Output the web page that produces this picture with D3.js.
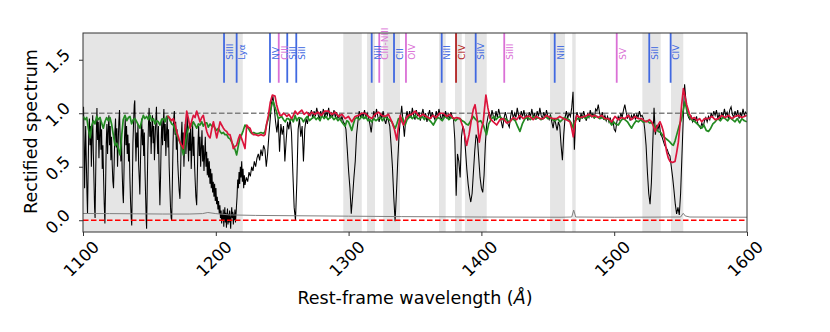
<!DOCTYPE html>
<head>
  <meta charset="utf-8">
  <title>Rectified spectrum</title>
  <style>
    body { margin: 0; background: #fff; }
    svg { display: block; font-family: "DejaVu Sans", sans-serif; }
  </style>
</head>

<body>
  <div id="chart"></div>

  <script src="https://d3js.org/d3.v7.min.js"></script>
  <script type="text/javascript">

    // ---------------- data (wavelength in A, rectified flux) ----------------
    const xTicks = [1100, 1200, 1300, 1400, 1500, 1600];
    const yTicks = [0.0, 0.5, 1.0, 1.5];

    // masked (grey) wavelength windows
    const maskStart = [1100, 1296.0, 1313.9, 1326.1, 1368.1, 1380.1, 1387.6, 1451.7, 1468.4, 1521.2, 1542.8];
    const maskEnd   = [1220.3, 1309.9, 1319.9, 1338.7, 1373.1, 1385.2, 1404.0, 1463.0, 1471.0, 1535.0, 1552.0];

    // line identifications
    const lineNames = ["SiIII", "Lyα", "NV", "CIII", "SiII", "SiII", "NiII", "CIII-NIII", "CII", "OIV",
                       "NiII", "CIV", "SiIV", "SiIII", "NiII", "SV", "SiII", "CIV"];
    const lineWaves = [1206.2, 1215.7, 1240.8, 1247.4, 1253.8, 1260.6, 1317.4, 1323.1, 1334.2, 1343.2,
                       1370.1, 1380.9, 1395.7, 1417.2, 1455.2, 1501.9, 1526.4, 1542.5];
    const lineKinds = ["ism", "ism", "ism", "phot", "ism", "ism", "ism", "phot", "ism", "phot",
                       "ism", "other", "ism", "phot", "ism", "phot", "ism", "ism"];

    // observed spectrum, forest part
    const blackForest = [
      [1100.0,0.95],[1100.4,1.06],[1100.8,0.72],[1101.2,0.30],[1101.6,0.62],[1102.0,0.88],[1102.5,0.55],[1103.0,0.25],
      [1103.4,0.06],[1103.8,0.40],[1104.3,0.82],[1104.8,0.95],[1105.3,0.70],[1105.8,0.88],[1106.3,0.50],[1106.8,0.78],
      [1107.3,0.98],[1107.8,0.62],[1108.3,0.35],[1108.7,0.12],[1109.1,0.02],[1109.5,0.38],[1110.0,0.80],[1110.5,1.05],
      [1111.0,0.75],[1111.5,0.92],[1112.0,0.58],[1112.5,0.80],[1113.0,0.96],[1113.5,0.66],[1114.0,0.85],[1114.5,0.48],
      [1115.0,0.70],[1115.5,0.40],[1116.0,0.15],[1116.5,-0.03],[1117.0,0.30],[1117.5,0.72],[1118.0,0.90],[1118.5,0.62],
      [1119.0,0.84],[1119.5,0.98],[1120.0,0.70],[1120.5,0.88],[1121.0,0.56],[1121.5,0.78],[1122.0,0.52],[1122.5,0.36],
      [1123.0,0.30],[1123.5,0.55],[1124.0,0.82],[1124.5,0.95],[1125.0,0.68],[1125.5,0.86],[1126.0,0.50],[1126.5,0.72],
      [1127.0,0.92],[1127.5,1.03],[1128.0,0.75],[1128.5,0.55],[1129.0,0.80],[1129.5,0.45],[1130.0,0.25],[1130.4,0.16],
      [1130.8,0.40],[1131.3,0.78],[1131.8,0.95],[1132.3,0.70],[1132.8,0.88],[1133.3,0.62],[1133.8,0.80],[1134.3,0.55],
      [1134.8,0.72],[1135.3,0.40],[1135.8,0.18],[1136.3,0.02],[1136.7,-0.05],[1137.1,0.30],[1137.6,0.72],[1138.1,0.92],
      [1138.6,1.08],[1139.0,1.12],[1139.4,0.80],[1139.9,0.55],[1140.4,0.82],[1140.9,0.68],[1141.4,0.90],[1141.9,0.52],
      [1142.4,0.38],[1142.8,0.24],[1143.2,0.50],[1143.7,0.78],[1144.2,0.95],[1144.7,0.70],[1145.2,0.85],[1145.7,0.60],
      [1146.2,0.82],[1146.7,0.45],[1147.2,0.20],[1147.6,0.00],[1147.9,-0.08],[1148.3,0.25],[1148.8,0.65],[1149.3,0.90],
      [1149.8,1.05],[1150.3,0.78],[1150.8,0.92],[1151.3,0.62],[1151.8,0.85],[1152.3,0.98],[1152.8,0.72],[1153.3,0.88],
      [1153.8,0.56],[1154.3,0.76],[1154.8,0.92],[1155.3,1.06],[1155.8,0.80],[1156.3,0.62],[1156.8,0.88],[1157.3,0.45],
      [1157.9,0.14],[1158.4,0.40],[1158.9,0.75],[1159.4,0.95],[1159.9,0.70],[1160.4,0.88],[1160.9,1.04],[1161.4,0.74],
      [1161.9,0.90],[1162.4,0.60],[1162.9,0.82],[1163.4,0.97],[1163.9,0.68],[1164.4,0.85],[1164.9,0.50],[1165.4,0.30],
      [1165.9,0.12],[1166.4,0.02],[1166.8,0.00],[1167.3,0.35],[1167.8,0.72],[1168.3,0.95],[1168.8,1.02],[1169.3,0.80],
      [1169.8,0.92],[1170.3,0.66],[1170.8,0.85],[1171.3,0.55],[1171.8,0.42],[1172.4,0.28],[1173.0,0.20],[1173.5,0.45],
      [1174.0,0.78],[1174.5,0.92],[1175.0,0.66],[1175.5,0.82],[1176.0,0.50],[1176.5,0.70],[1177.0,0.90],[1177.5,0.62],
      [1178.0,0.80],[1178.5,0.98],[1179.0,0.72],[1179.5,0.55],[1180.0,0.82],[1180.5,0.65],[1181.0,0.88],[1181.5,0.48],
      [1182.0,0.70],[1182.5,0.92],[1183.0,0.60],[1183.5,0.78],[1184.0,0.52],[1184.5,0.36],[1185.0,0.22],[1185.6,0.14],
      [1186.1,0.42],[1186.6,0.72],[1187.1,0.88],[1187.6,0.60],[1188.1,0.78],[1188.6,0.50],[1189.1,0.68],[1189.6,0.84],
      [1190.1,0.55],[1190.6,0.70],[1191.1,0.46],[1191.6,0.62],[1192.1,0.78],[1192.6,0.50],[1193.1,0.64],[1193.6,0.42],
      [1194.1,0.58],[1194.6,0.40],[1195.1,0.55],[1195.6,0.34],[1196.1,0.48],[1196.6,0.30],[1197.1,0.44],[1197.6,0.26],
      [1198.1,0.36],[1198.6,0.22],[1199.1,0.34],[1199.6,0.18],[1200.1,0.30],[1200.6,0.15],[1201.1,0.22],[1201.6,0.10],
      [1202.1,0.18],[1202.6,0.06],[1203.1,0.14],[1203.5,0.02],[1204.0,0.09],[1204.4,-0.03],[1204.8,0.06],[1205.2,0.00],
      [1205.6,0.10],[1206.0,-0.06],[1206.4,0.04],[1206.8,0.12],[1207.2,-0.02],[1207.6,0.07],[1208.0,-0.07],[1208.4,0.03],
      [1208.8,0.11],[1209.2,-0.04],[1209.6,0.06],[1210.0,-0.02],[1210.4,0.09],[1210.8,0.01],[1211.2,-0.08],[1211.6,0.05],
      [1212.0,0.12],[1212.4,0.02],[1212.8,0.08],[1213.2,-0.04],[1213.6,0.06],[1214.0,0.00],[1214.4,0.10],[1214.8,-0.02],
      [1215.2,0.05],[1215.6,0.14],[1216.0,0.22],[1216.5,0.38],[1217.0,0.30],[1217.5,0.45],[1218.0,0.34],[1218.5,0.50],
      [1219.0,0.40],[1219.5,0.55],[1220.0,0.36],[1220.5,0.48],[1221.0,0.30],[1221.5,0.42]
    ];

    // observed spectrum, red of Lya
    const blackMain = [
      [1222,0.33],[1223,0.40],[1224,0.36],[1225,0.45],[1226,0.41],[1227,0.50],[1228,0.46],[1229,0.55],[1230,0.50],
      [1231,0.58],[1232,0.62],[1233,0.56],[1234,0.66],[1235,0.60],[1236,0.70],[1237,0.66],[1238,0.50],[1239,0.62],
      [1240,0.80],[1241,0.95],[1242,1.10],[1243,1.16],[1244,1.05],[1245,0.92],[1246,0.82],[1247,0.95],[1248,0.64],
      [1249,0.90],[1250,0.80],[1251,0.88],[1252,0.55],[1253,0.75],[1254,0.92],[1255,0.85],[1256,0.95],[1257,0.82],
      [1258,0.45],[1259,0.12],[1260,0.00],[1261,0.35],[1262,0.85],[1263,0.95],[1264,0.78],[1265,0.88],[1266,0.55],
      [1267,0.85],[1268,0.95],[1269,0.90],[1270,1.00],[1271,0.98],[1272,1.03],[1273,0.95],[1274,1.02],[1275,0.97],
      [1276,1.05],[1277,0.99],[1278,0.94],[1279,1.02],[1280,0.97],[1281,1.04],[1282,0.96],[1283,1.01],[1284,0.98],
      [1285,1.05],[1286,0.95],[1287,1.00],[1288,0.97],[1289,1.03],[1290,0.96],[1291,1.01],[1292,0.95],[1293,0.99],
      [1294,0.93],[1295,0.97],[1296,0.92],[1297,0.90],[1298,0.85],[1299,0.66],[1300,0.46],[1301,0.30],[1302,0.06],
      [1303,0.22],[1304,0.40],[1305,0.55],[1306,0.80],[1307,0.92],[1308,1.02],[1309,0.96],[1310,1.00],[1311,0.97],
      [1312,1.03],[1313,0.95],[1314,1.00],[1315,0.96],[1316,0.90],[1317,0.82],[1318,0.93],[1319,1.02],[1320,0.96],
      [1321,1.04],[1322,0.97],[1323,0.92],[1324,1.00],[1325,0.95],[1326,1.02],[1327,0.94],[1328,0.90],[1329,0.97],
      [1330,0.93],[1331,0.88],[1332,0.70],[1333,0.50],[1334,0.22],[1335,-0.01],[1336,0.25],[1337,0.55],[1338,0.80],
      [1339,0.95],[1340,1.07],[1341,0.92],[1342,0.78],[1343,0.95],[1344,1.02],[1345,0.95],[1346,1.02],[1347,0.96],
      [1348,1.05],[1349,0.98],[1350,0.94],[1351,1.03],[1352,0.97],[1353,1.01],[1354,0.93],[1355,0.99],[1356,1.04],
      [1357,0.96],[1358,1.00],[1359,0.92],[1360,0.98],[1361,1.03],[1362,0.95],[1363,1.01],[1364,0.97],[1365,0.94],
      [1366,1.02],[1367,0.96],[1368,1.04],[1369,0.98],[1370,0.93],[1371,1.00],[1372,0.96],[1373,1.02],[1374,0.95],
      [1375,0.99],[1376,0.94],[1377,1.01],[1378,0.97],[1379,0.95],[1380,0.75],[1381,0.23],[1382,0.62],[1383,0.55],
      [1384,0.40],[1385,0.78],[1386,0.88],[1387,0.84],[1388,0.66],[1389,0.48],[1390,0.34],[1391,0.24],[1392,0.17],
      [1393,0.25],[1394,0.45],[1395,0.65],[1396,0.80],[1397,0.76],[1398,0.58],[1399,0.40],[1400,0.30],[1401,0.26],
      [1402,0.42],[1403,0.72],[1404,0.90],[1405,0.97],[1406,1.01],[1407,0.95],[1408,1.03],[1409,0.97],[1410,0.93],
      [1411,1.02],[1412,0.96],[1413,1.04],[1414,0.98],[1415,0.92],[1416,0.86],[1417,0.95],[1418,1.01],[1419,0.96],
      [1420,0.90],[1421,0.87],[1422,0.97],[1423,1.03],[1424,0.95],[1425,1.00],[1426,0.96],[1427,1.05],[1428,0.98],
      [1429,0.94],[1430,1.02],[1431,0.97],[1432,1.03],[1433,0.95],[1434,0.99],[1435,0.93],[1436,1.01],[1437,0.97],
      [1438,1.04],[1439,0.96],[1440,1.00],[1441,0.94],[1442,1.02],[1443,0.97],[1444,1.05],[1445,0.98],[1446,0.95],
      [1447,1.01],[1448,0.96],[1449,1.03],[1450,0.97],[1451,0.94],[1452,0.99],[1453,0.92],[1454,0.86],[1455,0.95],
      [1456,0.90],[1457,0.84],[1458,0.92],[1459,0.88],[1460,0.70],[1461,0.56],[1462,0.80],[1463,0.96],[1464,1.02],
      [1465,0.95],[1466,1.00],[1467,0.97],[1468,1.05],[1469,1.20],[1470,0.66],[1471,0.95],[1472,1.01],[1473,0.96],
      [1474,0.92],[1475,1.00],[1476,0.95],[1477,1.02],[1478,0.97],[1479,0.93],[1480,0.99],[1481,0.96],[1482,1.03],
      [1483,0.97],[1484,1.00],[1485,0.95],[1486,1.04],[1487,1.02],[1488,1.08],[1489,1.00],[1490,0.96],[1491,1.01],
      [1492,0.94],[1493,0.98],[1494,0.93],[1495,0.97],[1496,0.92],[1497,0.96],[1498,0.90],[1499,0.94],[1500,0.85],
      [1501,0.83],[1502,0.92],[1503,0.97],[1504,0.94],[1505,1.00],[1506,0.96],[1507,1.03],[1508,1.08],[1509,1.01],
      [1510,0.95],[1511,0.99],[1512,0.93],[1513,0.98],[1514,0.95],[1515,1.00],[1516,0.94],[1517,0.99],[1518,0.96],
      [1519,1.02],[1520,0.97],[1521,0.98],[1522,0.95],[1523,0.85],[1524,0.70],[1525,0.45],[1526,0.25],[1527,0.15],
      [1528,0.35],[1529,0.70],[1530,1.05],[1531,0.80],[1532,0.88],[1533,0.85],[1534,0.90],[1535,0.80],[1536,0.78],
      [1537,0.74],[1538,0.70],[1539,0.68],[1540,0.66],[1541,0.62],[1542,0.60],[1543,0.50],[1544,0.40],[1545,0.28],
      [1546,0.15],[1547,0.06],[1548,0.12],[1549,0.05],[1550,0.25],[1551,0.60],[1552,0.95],[1553,1.27],[1554,1.12],
      [1555,1.00],[1556,0.96],[1557,0.94],[1558,0.97],[1559,0.92],[1560,0.95],[1561,0.93],[1562,0.97],[1563,0.90],
      [1564,0.88],[1565,0.86],[1566,0.91],[1567,0.87],[1568,0.93],[1569,0.96],[1570,0.92],[1571,0.97],[1572,0.94],
      [1573,1.00],[1574,0.96],[1575,1.02],[1576,0.98],[1577,1.03],[1578,0.95],[1579,0.99],[1580,0.94],[1581,1.01],
      [1582,0.97],[1583,1.04],[1584,0.98],[1585,1.01],[1586,0.95],[1587,1.03],[1588,1.06],[1589,0.99],[1590,0.96],
      [1591,1.02],[1592,0.97],[1593,1.03],[1594,0.95],[1595,1.00],[1596,0.97],[1597,1.04],[1598,0.98],[1599,1.01],
      [1600,0.99]
    ];

    // error spectrum
    const errorSpec = [
      [1100,0.063],[1120,0.062],[1140,0.060],[1160,0.058],[1180,0.058],[1190,0.062],[1194,0.072],[1200,0.062],
      [1210,0.050],[1230,0.045],[1260,0.042],[1300,0.038],[1340,0.034],[1400,0.030],[1460,0.028],[1468,0.030],
      [1469.5,0.095],[1471,0.030],[1500,0.028],[1550,0.030],[1552,0.065],[1553.5,0.040],[1557,0.030],[1600,0.028]
    ];

    // model 1 (green)
    const greenModel = [
      [1100.2,0.97],[1101.5,0.94],[1102.8,0.96],[1104,0.86],[1105.3,0.77],[1106.5,0.88],[1107.8,0.93],[1109,0.90],
      [1110.3,0.97],[1111.5,0.94],[1112.8,0.96],[1114,0.91],[1115.3,0.86],[1116.5,0.92],[1117.8,0.96],[1119,0.93],
      [1120.3,0.96],[1121.5,0.90],[1122.8,0.80],[1124.1,0.70],[1125.5,0.72],[1126.8,0.66],[1127.9,0.61],[1129.2,0.80],
      [1130.3,0.94],[1131.6,0.98],[1133,0.93],[1134.2,0.96],[1135.4,0.97],[1136.6,0.90],[1137.8,0.94],[1139.2,0.95],
      [1140.5,0.92],[1141.7,0.89],[1142.9,0.86],[1144.2,0.93],[1145.4,0.98],[1146.6,0.95],[1147.9,0.97],[1149.2,0.94],
      [1150.4,0.98],[1151.7,0.93],[1153,0.95],[1154.2,0.90],[1155.5,0.93],[1156.7,0.92],[1158,0.89],[1159.2,0.94],
      [1160.5,0.95],[1161.8,0.92],[1163,0.97],[1164.3,0.97],[1165.6,0.93],[1166.8,0.90],[1168,0.89],[1169.3,0.84],
      [1170.5,0.80],[1171.8,0.76],[1173,0.73],[1174.3,0.68],[1175.6,0.61],[1176.8,0.70],[1178.1,0.80],[1179.4,0.86],
      [1180.6,0.90],[1181.9,0.88],[1183.1,0.92],[1184.4,0.89],[1185.6,0.86],[1186.9,0.90],[1188.1,0.89],[1189.4,0.92],
      [1190.6,0.88],[1191.9,0.91],[1193.2,0.91],[1194.4,0.87],[1195.7,0.90],[1196.9,0.88],[1198.1,0.89],[1199.4,0.86],
      [1200.7,0.84],[1201.9,0.86],[1203.2,0.83],[1204.4,0.81],[1205.7,0.82],[1206.9,0.80],[1208.2,0.80],[1209.5,0.77],
      [1210.7,0.76],[1212,0.73],[1213.2,0.70],[1214.5,0.66],[1215.7,0.61],[1217,0.70],[1218.2,0.77],[1219.5,0.80],
      [1220.7,0.84],[1222,0.89],[1223.2,0.87],[1224.5,0.86],[1225.8,0.83],[1227,0.81],[1228.5,0.82],[1230,0.81],
      [1232,0.81],[1234,0.82],[1236,0.81],[1237.1,0.83],[1238.3,0.90],[1239.6,0.95],[1241,1.02],[1242.2,1.08],
      [1243.3,1.11],[1244.5,1.06],[1245.8,1.01],[1247,0.95],[1248.3,0.96],[1249.6,0.97],[1251,0.94],[1252.3,0.92],
      [1253.5,0.95],[1254.6,0.95],[1256,0.93],[1257.2,0.95],[1258.4,0.92],[1259.7,0.98],[1261,0.93],[1262.5,0.96],
      [1264.7,0.95],[1266,0.92],[1267.5,0.95],[1269,0.97],[1270.5,0.93],[1272.2,0.95],[1274,0.97],[1275.5,0.94],
      [1277,0.96],[1278.5,0.93],[1279.8,0.98],[1281.5,0.95],[1283,0.97],[1284.5,0.94],[1286,0.96],[1287.3,0.97],
      [1289,0.94],[1290.5,0.96],[1292,0.93],[1293.5,0.95],[1294.8,0.92],[1296,0.90],[1297.4,0.88],[1298.7,0.93],
      [1299.9,0.92],[1301.2,0.88],[1302.4,0.84],[1303.6,0.90],[1304.9,0.95],[1306.5,0.96],[1308,0.94],[1309.9,0.97],
      [1311.5,0.95],[1313,0.97],[1314.5,0.93],[1316,0.94],[1317.5,0.92],[1319,0.95],[1320.5,0.93],[1322.5,0.95],
      [1324,0.96],[1325.5,0.93],[1327.5,0.97],[1329,0.95],[1330.5,0.94],[1332.6,0.92],[1334,0.88],[1335.1,0.86],
      [1336.3,0.90],[1337.6,0.95],[1339,0.93],[1340.5,0.96],[1342.6,0.89],[1344,0.94],[1346.4,0.97],[1348,0.95],
      [1350.1,0.98],[1352,0.95],[1353.7,0.95],[1355.5,0.97],[1357,0.94],[1358.8,0.97],[1360.5,0.94],[1362,0.92],
      [1363.8,0.89],[1365.5,0.93],[1367,0.96],[1368.8,0.95],[1370.5,0.93],[1372,0.96],[1373.8,0.97],[1375.5,0.94],
      [1377,0.96],[1378.9,0.95],[1380.5,0.93],[1382,0.95],[1383.9,0.95],[1385.5,0.93],[1387,0.92],[1388.5,0.90],
      [1390.1,0.89],[1392,0.93],[1393.9,0.97],[1395.8,0.94],[1397.7,0.92],[1399.5,0.93],[1401.4,0.89],[1402.7,0.84],
      [1403.9,0.80],[1405.5,0.90],[1407.7,0.95],[1409.5,0.97],[1411,0.94],[1412.5,0.96],[1414,0.97],[1416,0.94],
      [1418,0.95],[1419.8,0.93],[1421.5,0.92],[1423.5,0.95],[1425.5,0.93],[1427.2,0.88],[1429,0.83],[1430.8,0.90],
      [1432.8,0.95],[1434.8,0.96],[1436.8,0.94],[1439.1,0.97],[1441,0.95],[1443,0.96],[1444.8,0.94],[1446.6,0.95],
      [1448.5,0.97],[1450,0.95],[1451.7,0.97],[1453.5,0.94],[1455.5,0.93],[1457.3,0.95],[1459.2,0.92],[1461,0.94],
      [1462.5,0.96],[1464.2,0.95],[1466,0.94],[1467.6,0.91],[1469.2,0.86],[1470.5,0.93],[1472.5,0.95],[1474.3,0.95],
      [1476.5,0.97],[1478.5,0.95],[1480.8,0.97],[1483,0.98],[1485,0.96],[1487,0.97],[1489,0.95],[1491,0.96],
      [1493.5,0.94],[1495.6,0.95],[1497,0.91],[1498.1,0.89],[1499.5,0.92],[1501,0.90],[1503.1,0.89],[1505,0.93],
      [1506.5,0.95],[1508.1,0.94],[1510,0.92],[1511.5,0.89],[1513.1,0.86],[1514.8,0.90],[1516.5,0.93],[1518.2,0.92],
      [1520,0.94],[1521.6,0.92],[1523.2,0.92],[1525,0.93],[1526.6,0.91],[1528.2,0.91],[1529.8,0.89],[1531.5,0.86],
      [1533.2,0.83],[1535,0.82],[1536.7,0.79],[1538.3,0.77],[1540.2,0.75],[1542,0.73],[1543.3,0.71],[1544.5,0.70],
      [1545.8,0.74],[1547.1,0.80],[1548.9,0.88],[1550.8,0.95],[1552.1,1.04],[1553.4,1.11],[1554.6,1.03],[1555.9,0.98],
      [1557.5,0.95],[1559.2,0.93],[1560.9,0.92],[1562.5,0.90],[1564.2,0.88],[1565.9,0.86],[1567.5,0.89],[1569.3,0.84],
      [1571,0.83],[1572.7,0.86],[1574.3,0.90],[1576,0.92],[1578,0.95],[1580,0.93],[1581.7,0.96],[1583.5,0.95],
      [1585.5,0.93],[1587.2,0.96],[1589,0.94],[1591,0.92],[1592.7,0.95],[1594.5,0.91],[1596.1,0.95],[1598,0.93],
      [1599.9,0.92]
    ];

    // model 2 (crimson)
    const redModel = [
      [1163.5,0.97],[1164.3,0.97],[1165.5,0.95],[1166.8,0.93],[1168,0.95],[1169.3,0.90],[1170.5,0.83],[1171.8,0.78],
      [1173,0.73],[1174.3,0.70],[1175.6,0.67],[1176.8,0.85],[1178.1,1.02],[1179.4,0.95],[1180.6,0.86],[1181.9,0.93],
      [1183.1,0.98],[1184.4,0.96],[1185.6,1.02],[1186.9,0.97],[1188.1,0.92],[1189.4,0.96],[1190.6,0.98],[1191.9,0.90],
      [1193.2,0.83],[1194.4,0.79],[1195.7,0.77],[1196.9,0.85],[1198.2,0.92],[1199.4,0.85],[1200.7,0.77],[1201.9,0.84],
      [1203.2,0.92],[1204.4,0.89],[1205.7,0.86],[1206.9,0.84],[1208.2,0.83],[1209.5,0.80],[1210.7,0.80],[1212,0.74],
      [1213.2,0.67],[1214.5,0.69],[1215.7,0.70],[1217,0.76],[1218.2,0.80],[1219.5,0.76],[1220.7,0.72],[1222,0.67],
      [1223.3,0.89],[1224.5,0.87],[1225.8,0.86],[1227,0.82],[1228.3,0.80],[1230,0.80],[1232,0.79],[1234,0.80],
      [1236,0.79],[1237.1,0.80],[1238.3,0.90],[1239.6,0.98],[1241,1.10],[1242.6,1.17],[1244.6,1.16],[1245.8,1.08],
      [1247.1,1.02],[1248.3,0.98],[1249.6,0.98],[1251,1.00],[1252.1,0.99],[1253.5,0.97],[1255,0.99],[1257.1,0.95],
      [1258.4,0.98],[1259.7,1.02],[1261.5,0.99],[1263,1.01],[1264.7,1.03],[1266.5,0.99],[1268.5,1.01],[1270.5,0.98],
      [1272.2,1.01],[1274.5,0.99],[1277,1.01],[1279.5,0.98],[1282,1.02],[1284.8,1.02],[1287.5,0.99],[1290,1.01],
      [1292.5,0.97],[1295,0.99],[1297.4,0.95],[1299.9,0.97],[1302.4,0.92],[1304.9,0.97],[1307.4,0.98],[1309.9,1.00],
      [1312.4,1.00],[1314.9,0.97],[1317.5,0.95],[1320,0.99],[1322.5,1.01],[1325,0.98],[1327.5,0.97],[1330,0.99],
      [1332.6,0.92],[1334.5,0.85],[1336.3,0.75],[1337.6,0.88],[1338.9,0.98],[1340.2,0.92],[1341.4,0.89],[1343.2,0.95],
      [1345.1,0.98],[1347.5,0.99],[1350.1,1.02],[1352,0.99],[1353.7,0.97],[1356,0.99],[1358.5,0.97],[1361.3,0.95],
      [1363.5,0.98],[1366,0.96],[1368.5,1.00],[1371.3,1.00],[1373.8,0.97],[1376.4,0.99],[1378.9,0.95],[1381.4,0.96],
      [1383.9,0.95],[1386.4,0.86],[1388.9,0.70],[1390.7,0.80],[1392.6,0.95],[1394,1.04],[1395.2,1.08],[1396.8,0.95],
      [1398.4,0.73],[1400,0.85],[1401.4,0.92],[1402.4,1.05],[1403.4,1.17],[1404.9,1.05],[1406.5,0.95],[1409,0.92],
      [1411.5,0.89],[1414,0.94],[1416.5,0.95],[1419,0.91],[1421.5,0.92],[1424,0.96],[1426.5,0.94],[1429,0.98],
      [1431.5,0.95],[1434,0.97],[1436.5,0.97],[1439,0.94],[1441.5,0.97],[1444,0.95],[1446.6,0.95],[1449,0.98],
      [1451.5,0.96],[1454,0.95],[1456.6,0.95],[1459,0.97],[1461.7,0.95],[1464,0.94],[1466.7,0.92],[1468,0.86],
      [1469.2,0.78],[1470.5,0.90],[1471.8,0.98],[1474.5,0.96],[1478,0.97],[1481,0.99],[1483.5,0.97],[1485.6,0.98],
      [1488,0.96],[1490.5,0.98],[1493,0.95],[1495.6,0.95],[1498.1,0.92],[1500.6,0.97],[1503,0.94],[1505.5,0.96],
      [1508.1,0.95],[1510.5,0.98],[1513,0.94],[1515.7,0.97],[1518,0.95],[1520.7,0.95],[1522.5,0.93],[1524.5,0.92],
      [1526.5,0.94],[1528.2,0.92],[1529.5,0.88],[1530.7,0.83],[1532.5,0.88],[1534.5,0.92],[1535.8,0.88],[1537,0.83],
      [1538.3,0.73],[1539.5,0.64],[1540.8,0.58],[1542,0.55],[1543.9,0.54],[1545.8,0.55],[1547,0.63],[1548.3,0.73],
      [1549.6,0.90],[1550.8,1.08],[1552.1,1.23],[1553.4,1.15],[1554.6,1.08],[1556.5,1.00],[1558.4,0.95],[1560.5,0.96],
      [1562.5,0.93],[1564.2,0.95],[1565.9,0.92],[1568,0.95],[1571,0.95],[1573.5,0.97],[1576,0.94],[1578.5,0.95],
      [1581,0.98],[1583.5,0.96],[1586.1,0.98],[1588.5,0.95],[1591,0.97],[1593.6,0.98],[1596,0.96],[1598,0.97],
      [1599.9,0.98]
    ];

    ////////////////////////////////////////////////////////////////////////////////////////////////////////////

    var width = 830, height = 332;
    // plot box (note: "top" is a reserved window property, so use plotTop etc.)
    var plotLeft = 83, plotRight = 747, plotTop = 33, plotBottom = 232;

    var kindColor = { ism: "#4169e1", phot: "#da70d6", other: "#b22222" };

    var x = d3.scaleLinear().domain([1100, 1600]).range([plotLeft, plotRight]);
    var y = d3.scaleLinear().domain([-0.11, 1.75]).range([plotBottom, plotTop]);

    var svg = d3.select("#chart").append("svg")
        .attr("width", width)
        .attr("height", height);

    svg.append("rect").attr("width", width).attr("height", height).attr("fill", "#fff");

    svg.append("clipPath").attr("id", "plotclip")
      .append("rect")
        .attr("x", plotLeft).attr("y", plotTop)
        .attr("width", plotRight - plotLeft).attr("height", plotBottom - plotTop);

    var plot = svg.append("g").attr("clip-path", "url(#plotclip)");

    // grey masked windows
    plot.selectAll("rect.mask")
        .data(maskStart.map((s, i) => [s, maskEnd[i]]))
        .enter().append("rect")
        .attr("class", "mask")
        .attr("x", d => x(d[0]))
        .attr("width", d => x(d[1]) - x(d[0]))
        .attr("y", plotTop)
        .attr("height", plotBottom - plotTop)
        .attr("fill", "#e5e5e5");

    var line = d3.line().x(d => x(d[0])).y(d => y(d[1]));

    // continuum level
    plot.append("line")
        .attr("x1", plotLeft).attr("x2", plotRight)
        .attr("y1", y(1)).attr("y2", y(1))
        .attr("stroke", "#808080").attr("stroke-width", 1.5)
        .attr("stroke-dasharray", "5.5,2.5");

    plot.append("path")
        .datum(blackForest.concat(blackMain))
        .attr("d", line)
        .attr("fill", "none")
        .attr("stroke", "#000")
        .attr("stroke-width", 1.05);

    plot.append("path")
        .datum(errorSpec)
        .attr("d", line)
        .attr("fill", "none")
        .attr("stroke", "#808080")
        .attr("stroke-width", 1);

    plot.append("path")
        .datum(greenModel)
        .attr("d", line)
        .attr("fill", "none")
        .attr("stroke", "#228b22")
        .attr("stroke-width", 1.7)
        .attr("stroke-linejoin", "round");

    plot.append("path")
        .datum(redModel)
        .attr("d", line)
        .attr("fill", "none")
        .attr("stroke", "#dc143c")
        .attr("stroke-width", 1.7)
        .attr("stroke-linejoin", "round");

    // zero level
    plot.append("line")
        .attr("x1", plotLeft).attr("x2", plotRight)
        .attr("y1", y(0)).attr("y2", y(0))
        .attr("stroke", "#ff0000").attr("stroke-width", 1.5)
        .attr("stroke-dasharray", "5.5,2.5");

    // line identifications (top quarter of the axes)
    var ids = lineNames.map((n, i) => ({ name: n, wave: lineWaves[i], kind: lineKinds[i] }));

    plot.selectAll("line.ident")
        .data(ids)
        .enter().append("line")
        .attr("class", "ident")
        .attr("x1", d => x(d.wave)).attr("x2", d => x(d.wave))
        .attr("y1", plotTop).attr("y2", plotTop + 0.25 * (plotBottom - plotTop))
        .attr("stroke", d => kindColor[d.kind])
        .attr("stroke-width", 1.8);

    svg.selectAll("text.ident")
        .data(ids)
        .enter().append("text")
        .attr("class", "ident")
        .attr("transform", d => "translate(" + (x(d.wave) + 8.8) + "," + y(1.5) + ") rotate(-90)")
        .attr("fill", d => kindColor[d.kind])
        .style("font-size", "9px")
        .text(d => d.name);

    // axes
    var xAxis = svg.append("g")
        .attr("transform", "translate(0," + plotBottom + ")")
        .call(d3.axisBottom(x).tickValues(xTicks).tickFormat(d3.format("d")).tickSize(4));

    var yAxis = svg.append("g")
        .attr("transform", "translate(" + plotLeft + ",0)")
        .call(d3.axisLeft(y).tickValues(yTicks).tickFormat(d3.format(".1f")).tickSize(4));

    [xAxis, yAxis].forEach(g => {
      g.select(".domain").remove();
      g.selectAll(".tick line").attr("stroke", "#333");
      g.selectAll(".tick text")
        .attr("fill", "#000")
        .style("font-family", "DejaVu Sans")
        .style("font-size", "16.5px")
        .attr("text-anchor", "middle")
        .attr("dominant-baseline", "central")
        .attr("dy", null);
    });

    xAxis.selectAll(".tick text")
        .attr("x", 0).attr("y", 0)
        .attr("transform", "translate(-2,27) rotate(-45)");

    yAxis.selectAll(".tick text")
        .attr("x", 0).attr("y", 0)
        .attr("transform", "translate(-25,1) rotate(-45)");

    // frame
    svg.append("rect")
        .attr("x", plotLeft).attr("y", plotTop)
        .attr("width", plotRight - plotLeft).attr("height", plotBottom - plotTop)
        .attr("fill", "none")
        .attr("stroke", "#333")
        .attr("stroke-width", 1);

    // axis titles
    svg.append("text")
        .attr("transform", "translate(31," + ((plotTop + plotBottom) / 2 - 1) + ") rotate(-90)")
        .attr("text-anchor", "middle")
        .attr("dominant-baseline", "central")
        .style("font-size", "17.5px")
        .text("Rectified spectrum");

    var xt = svg.append("text")
        .attr("x", (plotLeft + plotRight) / 2)
        .attr("y", 298)
        .attr("text-anchor", "middle")
        .attr("dominant-baseline", "central")
        .style("font-size", "17.5px");
    xt.append("tspan").text("Rest-frame wavelength (");
    xt.append("tspan").style("font-style", "italic").text("Å");
    xt.append("tspan").text(")");

  </script>

</body>
